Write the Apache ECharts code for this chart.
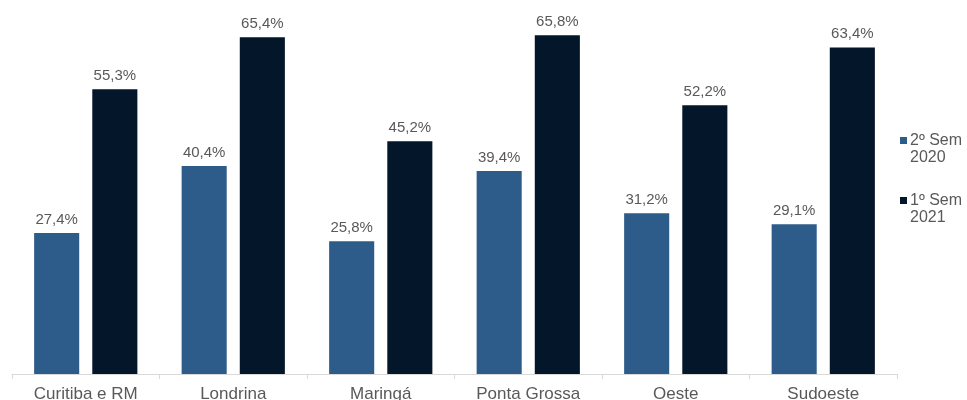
<!DOCTYPE html>
<html><head><meta charset="utf-8">
<script src="https://cdn.jsdelivr.net/npm/echarts@6/dist/echarts.min.js"></script>
<style>html,body{margin:0;padding:0;background:#fff}#c{width:967px;height:400px}</style>
</head><body><div id="c"></div>
<script>
var categories = ['Curitiba e RM', 'Londrina', 'Maringá', 'Ponta Grossa', 'Oeste', 'Sudoeste'];
var seriesNames = ['2º Sem\n2020', '1º Sem\n2021'];
var sem2_2020 = [27.4, 40.4, 25.8, 39.4, 31.2, 29.1];
var sem1_2021 = [55.3, 65.4, 45.2, 65.8, 52.2, 63.4];
var colors = ['#2E5C8A', '#041629'];

var chart = echarts.init(document.getElementById('c'), null, {renderer: 'canvas'});
var labelOpt = {
  show: true, position: 'top', distance: 6,
  color: '#595959', fontSize: 15, fontFamily: 'Liberation Sans',
  formatter: function (p) { return p.value.toFixed(1).replace('.', ',') + '%'; }
};
chart.setOption({
  animation: false,
  grid: {left: 12, right: 70, top: 13.5, bottom: 26, containLabel: false, outerBoundsMode: 'none'},
  legend: {
    orient: 'vertical', left: 900, top: 115, padding: 0,
    itemWidth: 7, itemHeight: 7, itemGap: 9, icon: 'rect',
    formatter: function (name) { return '\n' + name; },
    textStyle: {color: '#595959', fontSize: 16, fontFamily: 'Liberation Sans', lineHeight: 17, padding: [0, 0, 0, -2]},
    data: seriesNames
  },
  xAxis: {
    type: 'category', data: categories,
    axisLine: {lineStyle: {color: '#D9D9D9', width: 1}},
    axisTick: {show: true, length: 5, lineStyle: {color: '#D9D9D9'}},
    axisLabel: {color: '#595959', fontSize: 17, fontFamily: 'Liberation Sans', margin: 12}
  },
  yAxis: {type: 'value', min: 0, max: 70, show: false, splitLine: {show: false}},
  series: [
    {name: seriesNames[0], type: 'bar', data: sem2_2020, barGap: '29%', barCategoryGap: '30%',
     itemStyle: {color: colors[0]}, label: labelOpt},
    {name: seriesNames[1], type: 'bar', data: sem1_2021,
     itemStyle: {color: colors[1]}, label: labelOpt}
  ]
});
</script></body></html>
